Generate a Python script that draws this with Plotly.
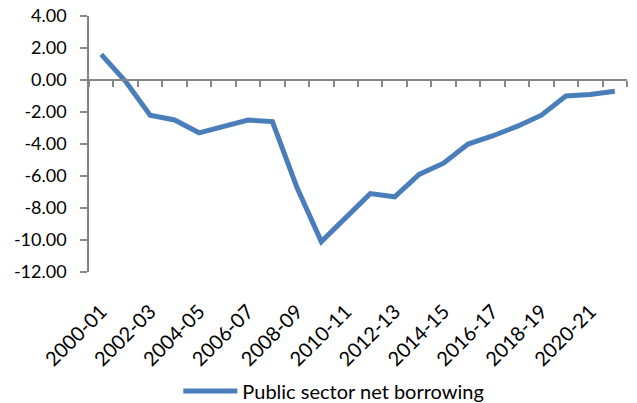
import plotly.graph_objects as go

categories = ["2000-01", "2001-02", "2002-03", "2003-04", "2004-05", "2005-06",
              "2006-07", "2007-08", "2008-09", "2009-10", "2010-11", "2011-12",
              "2012-13", "2013-14", "2014-15", "2015-16", "2016-17", "2017-18",
              "2018-19", "2019-20", "2020-21", "2021-22"]
borrowing = [1.6, -0.1, -2.2, -2.5, -3.3, -2.9, -2.5, -2.6, -6.7, -10.1, -8.6,
             -7.1, -7.3, -5.9, -5.2, -4.0, -3.5, -2.9, -2.2, -1.0, -0.9, -0.7]
y_tick_values = [4, 2, 0, -2, -4, -6, -8, -10, -12]
y_tick_labels = ["4.00", "2.00", "0.00", "-2.00", "-4.00", "-6.00", "-8.00", "-10.00", "-12.00"]
series_name = "Public sector net borrowing"

idx = list(range(len(categories)))
label_idx = idx[::2]
label_text = [categories[i] for i in label_idx]
boundaries = [i - 0.5 for i in range(len(categories) + 1)]

FONT = "Lato"
GRAY = "#868686"
BLUE = "#4A7EBB"

fig = go.Figure()
fig.add_trace(go.Scatter(x=idx, y=borrowing, mode="lines", name=series_name,
                         line=dict(color=BLUE, width=5), xaxis="x", yaxis="y"))
# helper trace to make the zero-line category axis render
fig.add_trace(go.Scatter(x=idx, y=borrowing, mode="lines", showlegend=False,
                         opacity=0, hoverinfo="skip", xaxis="x2", yaxis="y"))

fig.update_layout(
    width=637, height=403,
    margin=dict(l=89, r=10, t=16, b=131, autoexpand=False),
    paper_bgcolor="white", plot_bgcolor="white",
    font=dict(family=FONT, size=18, color="black"),
    showlegend=True,
    legend=dict(orientation="h", x=0.166, y=-0.465, xanchor="left", yanchor="middle",
                font=dict(family=FONT, size=20), itemwidth=54, bgcolor="rgba(0,0,0,0)"),
    xaxis=dict(range=[-0.5, len(categories) - 0.5], tickmode="array",
               tickvals=label_idx, ticktext=label_text, tickangle=-45,
               showline=False, showgrid=False, zeroline=False, ticks="",
               automargin=False, ticklabelstandoff=23,
               tickfont=dict(family=FONT, size=20)),
    xaxis2=dict(range=[-0.5, len(categories) - 0.5], overlaying="x", anchor="free",
                position=0.75, side="bottom", showline=True, linecolor=GRAY, linewidth=1.5,
                ticks="outside", tickmode="array", tickvals=boundaries, ticklen=6,
                tickcolor=GRAY, tickwidth=1.5, showticklabels=False, showgrid=False,
                zeroline=False, automargin=False),
    yaxis=dict(range=[-12, 4], tickmode="array", tickvals=y_tick_values,
               ticktext=y_tick_labels, showline=True, linecolor=GRAY, linewidth=1.5,
               ticks="outside", ticklen=7, tickcolor=GRAY, tickwidth=1.5,
               showgrid=False, zeroline=False, automargin=False, ticklabelstandoff=10,
               tickfont=dict(family=FONT, size=18)),
)

fig.write_html("out.html")
